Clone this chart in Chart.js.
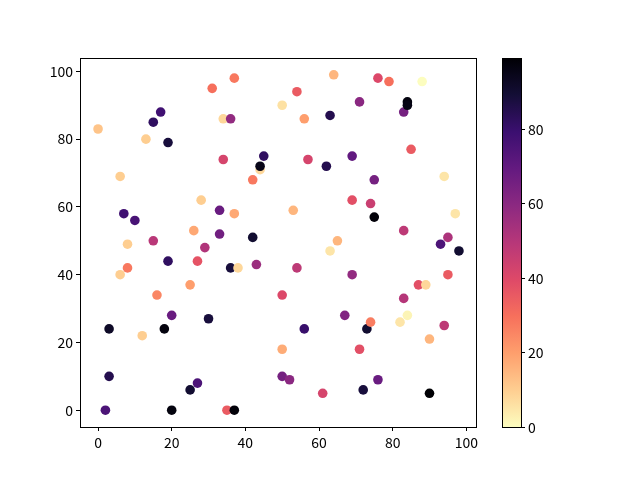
<!DOCTYPE html>
<html>
<head>
<meta charset="utf-8">
<script src="https://cdn.jsdelivr.net/npm/chart.js@4.4.1/dist/chart.umd.min.js"></script>
<style>
  html, body { margin: 0; padding: 0; background: #fff; }
  canvas { display: block; }
</style>
</head>
<body>
<canvas id="c" width="640" height="480"></canvas>
<script>
const xs = [37, 31, 50, 17, 15, 0, 34, 36, 13, 19, 45, 44, 44, 34, 42, 6, 28, 33, 37, 7,
  10, 26, 33, 42, 8, 15, 29, 64, 76, 79, 88, 54, 71, 83, 84, 84, 63, 56, 85, 57,
  69, 62, 75, 94, 69, 74, 75, 53, 97, 83, 93, 95, 65, 19, 27, 36, 38, 43, 8, 6,
  25, 16, 50, 20, 30, 3, 18, 12, 50, 3, 27, 25, 50, 2, 20, 35, 37, 63, 98, 54,
  69, 95, 87, 89, 83, 67, 73, 74, 82, 84, 94, 56, 90, 71, 52, 61, 72, 76, 90];
const ys = [98, 95, 90, 88, 85, 83, 86, 86, 80, 79, 75, 71, 72, 74, 68, 69, 62, 59, 58, 58,
  56, 53, 52, 51, 49, 50, 48, 99, 98, 97, 97, 94, 91, 88, 91, 90, 87, 86, 77, 74,
  75, 72, 68, 69, 62, 61, 57, 59, 58, 53, 49, 51, 50, 44, 44, 42, 42, 43, 42, 40,
  37, 34, 34, 28, 27, 24, 24, 22, 18, 10, 8, 6, 10, 0, 0, 0, 0, 47, 47, 42,
  40, 40, 37, 37, 33, 28, 24, 26, 26, 28, 25, 24, 21, 18, 9, 5, 6, 9, 5];
const cs = [28, 30, 6, 78, 82, 12, 8, 58, 10, 88, 82, 8, 95, 42, 28, 10, 10, 68, 18, 78,
  76, 18, 66, 90, 10, 49, 51, 15, 40, 30, 0, 35, 60, 65, 97, 96, 85, 20, 35, 42,
  70, 85, 65, 5, 38, 45, 98, 15, 5, 48, 75, 52, 15, 82, 37, 88, 8, 56, 28, 10,
  20, 25, 40, 68, 88, 92, 97, 10, 17, 85, 75, 90, 65, 75, 97, 35, 98, 5, 90, 48,
  58, 35, 38, 8, 50, 62, 90, 27, 5, 2, 48, 80, 15, 38, 60, 42, 88, 68, 99];
const xTicks = [0, 20, 40, 60, 80, 100];
const yTicks = [0, 20, 40, 60, 80, 100];
const cTicks = [0, 20, 40, 60, 80];

// magma samples at 0, 0.1, ... 1.0
const MAGMA = [[0,0,4],[20,14,54],[59,15,112],[100,26,128],[140,41,129],[183,55,121],
  [222,73,104],[247,112,92],[254,159,109],[254,206,145],[252,253,191]];

function magma(t) {
  t = Math.max(0, Math.min(1, t));
  const p = t * 10, i = Math.min(9, Math.floor(p)), f = p - i;
  const a = MAGMA[i], b = MAGMA[i + 1];
  const c = a.map((v, k) => Math.round(v + (b[k] - v) * f));
  return `rgb(${c[0]},${c[1]},${c[2]})`;
}

const cMin = Math.min(...cs), cMax = Math.max(...cs);
// reversed map: low values pale, high values black
const colorOf = v => magma(1 - (v - cMin) / (cMax - cMin));

const points = xs.map((x, i) => ({ x, y: ys[i] }));
const FONT = { family: "'Noto Sans CJK SC', 'Noto Sans', sans-serif", size: 14 };

const frameAndColorbar = {
  id: 'frameAndColorbar',
  afterDraw(chart) {
    const { ctx, chartArea: a } = chart;
    ctx.save();
    ctx.strokeStyle = '#000';
    ctx.lineWidth = 1;
    ctx.strokeRect(a.left + 0.5, a.top + 0.5, a.right - a.left - 1, a.bottom - a.top);

    // colorbar spans the same height as the axes
    const left = 502, w = 19;
    const top = a.top, bot = a.bottom;
    const pix = v => bot - (v - cMin) / (cMax - cMin) * (bot - top);
    const g = ctx.createLinearGradient(0, bot, 0, top);
    for (let k = 0; k <= 10; k++) g.addColorStop(k / 10, magma(1 - k / 10));
    ctx.fillStyle = g;
    ctx.fillRect(left, top, w, bot - top);
    ctx.strokeRect(left + 0.5, top + 0.5, w, bot - top);

    ctx.fillStyle = '#000';
    ctx.font = `${FONT.size}px ${FONT.family}`;
    ctx.textAlign = 'left';
    ctx.textBaseline = 'middle';
    cTicks.forEach(v => {
      const y = Math.round(pix(v)) + 0.5;
      ctx.beginPath();
      ctx.moveTo(left + w, y);
      ctx.lineTo(left + w + 4, y);
      ctx.stroke();
      ctx.fillText(String(v), left + w + 7, y);
    });
    ctx.restore();
  }
};

const axisCommon = {
  type: 'linear',
  border: { display: false },
  grid: { display: true, drawOnChartArea: false, drawTicks: true, tickLength: 4, color: '#000', tickWidth: 1 },
  ticks: { color: '#000', font: FONT, padding: 3, stepSize: 20, includeBounds: false, maxRotation: 0 }
};

new Chart(document.getElementById('c'), {
  type: 'scatter',
  data: {
    datasets: [{
      data: points,
      pointBackgroundColor: cs.map(colorOf),
      pointBorderWidth: 0,
      pointRadius: 4.8,
      pointHoverRadius: 4.8
    }]
  },
  options: {
    responsive: false,
    animation: false,
    devicePixelRatio: 1,
    layout: { padding: { left: 0, right: 163, top: 58, bottom: 0 } },
    plugins: { legend: { display: false }, tooltip: { enabled: false } },
    scales: {
      x: Object.assign({}, axisCommon, {
        min: -4.9, max: 102.9,
        ticks: Object.assign({}, axisCommon.ticks, { callback: v => xTicks.includes(v) ? v : '' }),
        afterFit: s => { s.height = 53; }
      }),
      y: Object.assign({}, axisCommon, {
        min: -4.95, max: 103.95,
        ticks: Object.assign({}, axisCommon.ticks, { callback: v => yTicks.includes(v) ? v : '' }),
        afterFit: s => { s.width = 80; }
      })
    }
  },
  plugins: [frameAndColorbar]
});
</script>
</body>
</html>
